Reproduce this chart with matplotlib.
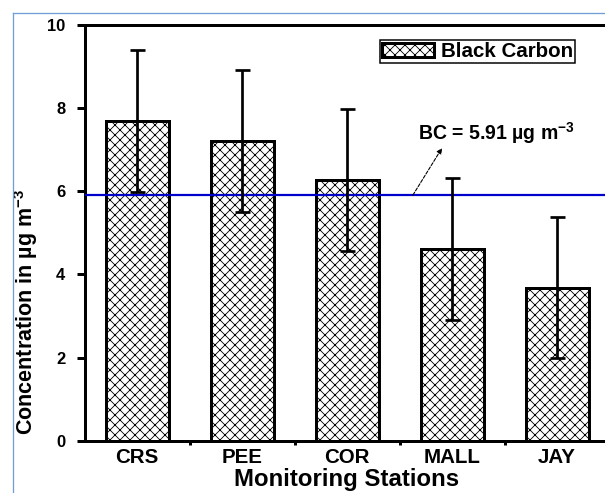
import matplotlib
matplotlib.use("Agg")
import matplotlib.pyplot as plt
from matplotlib.lines import Line2D
from matplotlib.patches import Patch

# Black carbon concentration at each monitoring station (mean and standard deviation)
stations = ["CRS", "PEE", "COR", "MALL", "JAY"]
bc_mean = [7.70, 7.21, 6.28, 4.61, 3.68]
bc_sd = [1.71, 1.70, 1.71, 1.71, 1.70]
overall_mean = 5.91
y_ticks = [0, 2, 4, 6, 8, 10]

DPI = 60
W, H = 605, 493


def px(v):
    """Convert a size in pixels to points at the figure dpi."""
    return v * 72.0 / DPI


plt.rcParams["font.family"] = ["Liberation Sans", "DejaVu Sans"]
plt.rcParams["font.weight"] = "bold"
plt.rcParams["mathtext.fontset"] = "custom"
plt.rcParams["mathtext.rm"] = "Liberation Sans:bold"
plt.rcParams["mathtext.bf"] = "Liberation Sans:bold"
plt.rcParams["mathtext.default"] = "bf"
plt.rcParams["hatch.linewidth"] = 1.0

fig = plt.figure(figsize=(W / DPI, H / DPI), dpi=DPI)
fig.patch.set_facecolor("white")
ax = fig.add_axes([84.5 / W, (H - 440.7) / H, 525 / W, 415.7 / H])

x = list(range(len(stations)))
ax.bar(x, bc_mean, width=0.6, facecolor="white", edgecolor="black",
       hatch="xx", linewidth=px(3), zorder=2)
ax.axhline(overall_mean, color="#0000cd", lw=px(2.2), zorder=3)
ax.errorbar(x, bc_mean, yerr=bc_sd, fmt="none", ecolor="black",
            elinewidth=px(2.7), capsize=px(7.5), capthick=px(2.7), zorder=4)

# annotation for the overall mean
ax.text(2.676, 7.40, "BC = 5.91 µg m$^{-3}$", fontsize=px(19.5),
        fontweight="bold", ha="left", va="center", zorder=5)
ax.annotate("", xy=(2.905, 7.04), xytext=(2.628, overall_mean),
            arrowprops=dict(arrowstyle="-|>", color="black", lw=px(1.1),
                            linestyle=(0, (3, 1.5)), shrinkA=0, shrinkB=0,
                            mutation_scale=px(11)), zorder=5)

ax.set_xlim(-0.5, 4.5)
ax.set_ylim(0, 10)
ax.set_yticks(y_ticks)
ax.set_yticklabels([str(v) for v in y_ticks])
ax.set_xticks(x)
ax.set_xticklabels(stations)
ax.set_xticks([i + 0.5 for i in x], minor=True)

ax.tick_params(axis="y", direction="out", length=px(8), width=px(3),
               pad=px(11), labelsize=px(16.5))
ax.tick_params(axis="x", which="major", length=0, pad=px(7),
               labelsize=px(20.5))
ax.tick_params(axis="x", which="minor", direction="out", length=px(4),
               width=px(3))

for side in ("left", "bottom", "top"):
    ax.spines[side].set_linewidth(px(3))
ax.spines["right"].set_visible(False)

ax.set_xlabel("Monitoring Stations", fontsize=px(24), fontweight="bold")
ax.xaxis.set_label_coords(0.5, -0.066)
ax.set_ylabel("Concentration in µg m$^{-3}$", fontsize=px(21.5),
              fontweight="bold")
ax.yaxis.set_label_coords(-0.0857, 0.31)

handle = Patch(facecolor="white", edgecolor="black", hatch="xx",
               linewidth=px(3))
leg = ax.legend(handles=[handle], labels=["Black Carbon"], loc="upper right",
                bbox_to_anchor=(575 / W, 1 - 40 / H),
                bbox_transform=fig.transFigure, frameon=True, fancybox=False,
                edgecolor="black", framealpha=1, borderpad=0.1,
                handlelength=2.5, handleheight=0.7, handletextpad=0.35,
                borderaxespad=0, prop=dict(size=px(20.5), weight="bold"))
leg.get_frame().set_linewidth(px(1.5))

# light frame around the figure
frame_kw = dict(transform=fig.transFigure, color="#6f9fd6", lw=px(1.3))
fig.add_artist(Line2D([13 / W, 13 / W], [0, 1 - 13 / H], **frame_kw))
fig.add_artist(Line2D([13 / W, 1], [1 - 13 / H, 1 - 13 / H], **frame_kw))

fig.savefig("out.png", dpi=DPI)
